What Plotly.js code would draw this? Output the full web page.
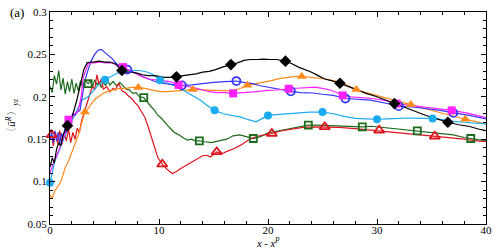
<!DOCTYPE html>
<html><head><meta charset="utf-8">
<script src="https://cdn.plot.ly/plotly-3.0.1.min.js"></script>
<style>html,body{margin:0;padding:0;background:#fff}#chart{width:497px;height:250px}</style>
</head><body><div id="chart"></div>
<script>
// ---- data ----
const blackX=[0,0.2,0.4,0.6,0.8,1.0,1.2,1.4,1.6,1.9,2.2,2.5,2.8,3.1,3.4,3.7,4.0,4.5,5.0,5.5,6.0,6.3,6.6,7.0,7.5,8.0,8.5,9.0,9.5,10.0,10.5,11.0,11.6,12.2,12.8,13.4,14.0,14.6,15.2,15.8,16.6,17.2,17.8,18.4,19.0,19.6,20.2,20.8,21.6,22.2,22.8,23.4,24.0,24.6,25.2,25.8,26.6,27.4,28.2,29.0,30.0,31.0,31.6,32.5,33.5,34.5,35.5,36.5,37.5,38.5,39.3,40];
const blackY=[0.117,0.128,0.122,0.138,0.146,0.142,0.155,0.161,0.166,0.170,0.183,0.198,0.215,0.232,0.240,0.241,0.241,0.242,0.241,0.241,0.239,0.235,0.231,0.229,0.229,0.228,0.226,0.225,0.225,0.224,0.223,0.223,0.2235,0.225,0.226,0.227,0.229,0.230,0.232,0.235,0.238,0.240,0.243,0.244,0.244,0.2445,0.244,0.244,0.242,0.239,0.235,0.232,0.229,0.225,0.221,0.219,0.216,0.212,0.208,0.204,0.200,0.195,0.192,0.188,0.183,0.178,0.174,0.170,0.167,0.165,0.162,0.160];
const blackMX=[1.6,6.6,11.6,16.6,21.6,26.6,31.6,36.5];
const blackMY=[0.166,0.231,0.2235,0.238,0.242,0.216,0.192,0.170];

const blueX=[0,0.15,0.3,0.45,0.6,0.75,0.9,1.05,1.2,1.35,1.5,1.7,1.9,2.1,2.3,2.5,2.75,3.0,3.2,3.5,3.8,4.1,4.4,4.7,5.0,5.3,5.7,6.1,6.6,7.1,7.8,8.5,9.0,9.6,10.2,11.0,12.1,13.0,14.2,15.0,16.0,17.1,17.8,18.6,19.3,19.9,21.0,22.1,23.0,24.1,25.0,26.0,27.1,28.2,29.4,30.6,32.0,33.3,34.6,35.8,37.0,38.5,40];
const blueY=[0.150,0.158,0.146,0.160,0.148,0.158,0.145,0.157,0.150,0.162,0.158,0.170,0.175,0.180,0.178,0.182,0.184,0.205,0.219,0.232,0.243,0.250,0.255,0.256,0.253,0.250,0.245,0.239,0.235,0.232,0.228,0.224,0.221,0.218,0.216,0.215,0.2135,0.214,0.216,0.217,0.218,0.2186,0.217,0.2155,0.213,0.2115,0.209,0.2065,0.205,0.2045,0.203,0.2017,0.198,0.197,0.196,0.193,0.189,0.188,0.186,0.184,0.181,0.178,0.174];
const blueMX=[7.1,12.1,17.1,22.1,27.1,32.0,37.0];
const blueMY=[0.232,0.2135,0.2186,0.2065,0.198,0.189,0.181];

const orangeX=[0,0.2,0.4,0.6,0.8,1.0,1.2,1.4,1.6,1.8,2.0,2.3,2.6,2.9,3.2,3.5,3.8,4.2,4.6,5.0,5.5,6.0,6.5,7.0,7.5,8.1,8.7,9.3,10.1,10.8,11.5,12.2,13.1,13.8,14.5,15.2,16.0,16.8,17.4,18.1,18.8,19.5,20.3,21.0,21.8,22.5,23.1,23.8,24.5,25.3,26.0,26.6,27.2,28.1,29.0,30.0,31.0,32.0,33.1,34.2,35.3,36.4,37.2,38.1,39.0,40];
const orangeY=[0.084,0.080,0.088,0.092,0.095,0.100,0.108,0.117,0.121,0.128,0.135,0.145,0.155,0.169,0.182,0.186,0.192,0.198,0.202,0.205,0.207,0.209,0.210,0.210,0.211,0.211,0.210,0.208,0.206,0.206,0.207,0.208,0.2085,0.2085,0.208,0.207,0.207,0.208,0.2095,0.2135,0.215,0.217,0.219,0.2215,0.223,0.224,0.224,0.223,0.2225,0.221,0.219,0.217,0.214,0.2085,0.205,0.2017,0.198,0.195,0.191,0.187,0.183,0.179,0.176,0.1735,0.171,0.168];
const orangeMX=[3.2,8.1,13.1,18.1,23.1,28.1,33.1,38.1];
const orangeMY=[0.182,0.211,0.2085,0.2135,0.224,0.2085,0.191,0.1735];

const magentaX=[0,0.2,0.4,0.6,0.8,1.0,1.2,1.4,1.7,2.0,2.3,2.6,2.85,3.05,3.3,3.5,3.8,4.1,4.6,5.1,5.7,6.2,6.7,7.3,7.9,8.5,9.0,9.6,10.2,11.0,11.8,12.5,13.2,14.0,14.6,15.3,16.0,16.8,17.5,18.2,19.0,19.9,20.8,21.9,22.7,23.5,24.3,25.0,25.7,26.3,26.85,27.6,28.6,29.6,30.6,31.8,33.0,34.3,35.5,36.85,38.2,40];
const magentaY=[0.110,0.118,0.125,0.130,0.137,0.143,0.150,0.158,0.173,0.176,0.180,0.184,0.200,0.223,0.233,0.239,0.240,0.240,0.241,0.240,0.240,0.237,0.235,0.231,0.228,0.2235,0.221,0.220,0.2195,0.218,0.214,0.2125,0.211,0.208,0.206,0.205,0.205,0.204,0.2045,0.205,0.206,0.2075,0.208,0.2095,0.210,0.211,0.2115,0.210,0.208,0.205,0.2017,0.200,0.199,0.198,0.196,0.192,0.190,0.188,0.186,0.184,0.181,0.1755];
const magentaMX=[1.7,6.7,11.8,16.8,21.9,26.85,31.8,36.85];
const magentaMY=[0.173,0.235,0.214,0.204,0.2095,0.2017,0.192,0.184];

const skyX=[0,0.2,0.46,0.8,1.07,1.5,2.0,2.5,2.9,3.5,4.0,4.4,5.05,5.6,6.2,6.8,7.5,8.2,9.0,9.6,10.1,10.8,11.5,12.2,13.0,13.8,14.4,15.1,15.9,16.8,17.5,18.2,18.9,19.4,20.0,20.8,21.8,22.8,23.8,25.0,26.0,27.0,28.0,29.0,30.0,31.0,32.0,33.0,34.0,35.1,36.0,37.0,38.0,39.0,40];
const skyY=[0.0985,0.110,0.125,0.135,0.145,0.158,0.172,0.185,0.196,0.200,0.207,0.2135,0.220,0.224,0.228,0.230,0.231,0.231,0.229,0.225,0.2195,0.216,0.2125,0.208,0.202,0.196,0.190,0.184,0.180,0.178,0.176,0.173,0.1705,0.174,0.178,0.179,0.180,0.181,0.182,0.182,0.180,0.177,0.1745,0.174,0.1735,0.174,0.1745,0.175,0.1745,0.1745,0.173,0.171,0.170,0.169,0.168];
const skyMX=[0,5.05,10.1,15.1,20.0,25.0,30.0,35.1];
const skyMY=[0.0985,0.220,0.2195,0.184,0.178,0.182,0.1735,0.1745];

const greenX=[0,0.2,0.4,0.6,0.8,1.0,1.2,1.4,1.6,1.8,2.0,2.2,2.4,2.6,2.8,3.0,3.2,3.5,3.7,3.9,4.1,4.3,4.5,4.7,4.9,5.1,5.3,5.5,5.8,6.1,6.4,6.7,7.0,7.3,7.6,7.9,8.2,8.6,9.0,9.3,9.6,9.9,10.2,10.5,10.8,11.1,11.4,11.7,12.0,12.3,12.6,13.0,13.3,13.7,14.2,14.8,15.5,16.2,16.8,17.4,18.0,18.65,19.3,20.0,21.0,22.0,22.8,23.7,24.5,25.5,26.5,27.5,28.65,29.5,30.5,31.5,32.5,33.7,35.0,36.0,37.0,38.0,38.6,39.3,40];
const greenY=[0.212,0.205,0.225,0.215,0.231,0.208,0.222,0.203,0.218,0.206,0.221,0.204,0.216,0.207,0.219,0.211,0.220,0.2155,0.219,0.212,0.220,0.214,0.218,0.211,0.217,0.213,0.219,0.214,0.218,0.213,0.217,0.213,0.209,0.208,0.204,0.205,0.200,0.199,0.192,0.188,0.184,0.178,0.175,0.170,0.166,0.162,0.158,0.156,0.153,0.151,0.149,0.150,0.148,0.148,0.147,0.146,0.148,0.150,0.154,0.155,0.153,0.1508,0.153,0.1575,0.160,0.1625,0.164,0.1665,0.1665,0.166,0.165,0.1645,0.1645,0.1653,0.164,0.163,0.1614,0.1598,0.158,0.157,0.155,0.152,0.1508,0.149,0.148];
const greenMX=[3.5,8.6,13.7,18.65,23.7,28.65,33.7,38.6];
const greenMY=[0.2155,0.199,0.148,0.1508,0.1665,0.1645,0.1598,0.1508];

const redX=[0,0.15,0.3,0.5,0.7,0.9,1.1,1.3,1.5,1.7,1.9,2.1,2.3,2.5,2.7,2.9,3.1,3.3,3.5,3.7,3.9,4.1,4.3,4.5,4.7,4.9,5.2,5.5,5.8,6.0,6.3,6.6,6.9,7.2,7.5,7.8,8.1,8.4,8.7,9.0,9.3,9.6,9.9,10.3,10.7,11.2,11.6,12.0,12.5,13.0,13.5,14.0,14.4,14.7,15.3,15.8,16.3,16.9,17.5,18.2,19.0,19.7,20.35,21.3,22.3,23.2,24.2,25.2,26.5,28.0,29.2,30.2,31.5,33.0,34.2,35.3,36.5,38.0,39.2,40];
const redY=[0.150,0.155,0.142,0.158,0.145,0.160,0.144,0.157,0.148,0.162,0.146,0.158,0.150,0.163,0.158,0.172,0.180,0.188,0.196,0.205,0.213,0.208,0.226,0.214,0.221,0.209,0.212,0.206,0.210,0.208,0.216,0.207,0.205,0.201,0.198,0.193,0.189,0.182,0.176,0.165,0.152,0.141,0.128,0.1205,0.115,0.1095,0.112,0.1155,0.119,0.123,0.127,0.1305,0.131,0.129,0.135,0.133,0.136,0.139,0.143,0.149,0.1535,0.155,0.1567,0.160,0.1625,0.164,0.1645,0.1645,0.164,0.1625,0.161,0.1605,0.159,0.157,0.155,0.1535,0.152,0.150,0.148,0.147];
const redMX=[0.15,10.3,15.3,20.35,25.2,30.2,35.3];
const redMY=[0.155,0.1205,0.135,0.1567,0.1645,0.1605,0.1535];

const xTickVals=[0,10,20,30,40];
const xTickText=['0','10','20','30','40'];
const yTickVals=[0.05,0.1,0.15,0.2,0.25,0.3];
const yTickText=['0.05','0.1','0.15','0.2','0.25','0.3'];

// ---- styles ----
const series=[
 {x:greenX,y:greenY,mx:greenMX,my:greenMY,c:'#1d6b1d',sym:'square-open',sz:7,mlw:1.8},
 {x:redX,y:redY,mx:redMX,my:redMY,c:'#e0141e',sym:'triangle-up-open',sz:9,mlw:1.8},
 {x:orangeX,y:orangeY,mx:orangeMX,my:orangeMY,c:'#ff8a1c',sym:'triangle-up',sz:9,mlw:0},
 {x:skyX,y:skyY,mx:skyMX,my:skyMY,c:'#1aabf0',sym:'circle',sz:8,mlw:0},
 {x:blueX,y:blueY,mx:blueMX,my:blueMY,c:'#3535ff',sym:'circle-open',sz:8,mlw:1.8},
 {x:magentaX,y:magentaY,mx:magentaMX,my:magentaMY,c:'#ff22ff',sym:'square',sz:8,mlw:0},
 {x:blackX,y:blackY,mx:blackMX,my:blackMY,c:'#000000',sym:'diamond',sz:9,mlw:0}
];
const traces=[];
series.forEach(s=>{
  traces.push({x:s.x,y:s.y,mode:'lines',line:{color:s.c,width:1.2},hoverinfo:'skip',showlegend:false});
});
series.forEach(s=>{
  traces.push({x:s.mx,y:s.my,mode:'markers',marker:{symbol:s.sym,size:s.sz,color:s.c,line:{color:s.c,width:s.mlw}},cliponaxis:false,showlegend:false});
});

const font='"Liberation Serif", "Times New Roman", serif';
const axisCommon={showline:true,linecolor:'#000',linewidth:1,mirror:'allticks',ticks:'inside',ticklen:5,tickwidth:1,tickcolor:'#000',showgrid:false,zeroline:false,tickfont:{family:font,size:11,color:'#000'}};
const layout={
  width:497,height:250,margin:{l:50,r:11,t:12,b:26},
  paper_bgcolor:'#fff',plot_bgcolor:'#fff',
  xaxis:Object.assign({},axisCommon,{range:[0,40],tickvals:xTickVals,ticktext:xTickText,ticklabelstandoff:-4,minor:{ticks:'inside',dtick:2,tick0:0,ticklen:3,tickcolor:'#000'}}),
  yaxis:Object.assign({},axisCommon,{range:[0.05,0.3],tickvals:yTickVals,ticktext:yTickText,minor:{ticks:'inside',dtick:0.01,tick0:0.05,ticklen:3,tickcolor:'#000'}}),
  annotations:[
    {text:'(a)',xref:'paper',yref:'paper',x:-0.075,y:1.0,xanchor:'center',yanchor:'middle',showarrow:false,font:{family:font,size:13,color:'#000'}},
    {text:'<i>x - x</i><sup><i>P</i></sup>',xref:'paper',yref:'paper',x:0.5,y:-0.088,xanchor:'center',yanchor:'middle',showarrow:false,font:{family:font,size:10.5,color:'#000'}},
    {text:'〈<i>u&#772;</i><sup><i>R</i></sup>〉<sub><i>yz</i></sub>',xref:'paper',yref:'paper',x:-0.088,y:0.5,xanchor:'center',yanchor:'middle',textangle:-90,showarrow:false,font:{family:font,size:11,color:'#000'}}
  ]
};
Plotly.newPlot('chart',traces,layout,{staticPlot:true,displayModeBar:false});
</script></body></html>
